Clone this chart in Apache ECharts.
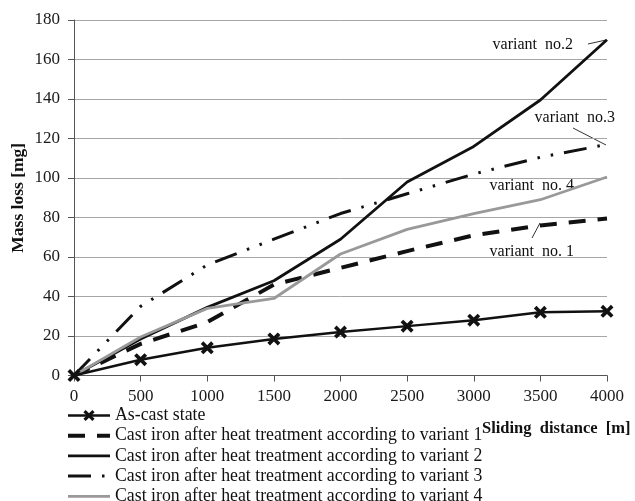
<!DOCTYPE html>
<html>
<head>
<meta charset="utf-8">
<script src="https://cdn.jsdelivr.net/npm/echarts@6/dist/echarts.min.js"></script>
<style>
html,body{margin:0;padding:0;background:#fff;}
#c{width:635px;height:501px;}
</style>
</head>
<body>
<div id="c"></div>
<script>
const distances = [0, 500, 1000, 1500, 2000, 2500, 3000, 3500, 4000];
const seriesNames = [
  'As-cast state',
  'Cast iron after heat treatment according to variant 1',
  'Cast iron after heat treatment according to variant 2',
  'Cast iron after heat treatment according to variant 3',
  'Cast iron after heat treatment according to variant 4'
];
const asCast   = [0, 8, 14, 18.5, 22, 25, 28, 32, 32.5];
const variant1 = [0, 16, 27, 46, 54.5, 63, 71, 76, 79.5];
const variant2 = [0, 18.5, 34.5, 48, 69, 98, 116, 139.5, 170];
const variant3 = [0, 35, 56, 69, 82, 92, 102, 110.5, 117];
const variant4 = [0, 19.5, 34, 39, 61.5, 74, 82, 89, 100.5];
const annotations = ['variant  no.2', 'variant  no.3', 'variant  no. 4', 'variant  no. 1'];

const FONT = '"Liberation Serif", "Times New Roman", serif';
const pair = arr => distances.map((d, i) => [d, arr[i]]);
const xMark = 'path://M0,2 L2,0 L5,3 L8,0 L10,2 L7,5 L10,8 L8,10 L5,7 L2,10 L0,8 L3,5 Z';

const styles = [
  {color: '#111', width: 2.5, type: 'solid'},
  {color: '#111', width: 4, type: [17, 12]},
  {color: '#111', width: 2.8, type: 'solid'},
  {color: '#111', width: 3, type: [23, 11, 2.5, 11, 2.5, 11]},
  {color: '#999', width: 2.8, type: 'solid'}
];
const dataSets = [asCast, variant1, variant2, variant3, variant4];

const series = seriesNames.map((name, i) => ({
  name: name, type: 'line', data: pair(dataSets[i]),
  symbol: i === 0 ? xMark : 'none', symbolSize: 13, showSymbol: i === 0,
  itemStyle: {color: styles[i].color},
  lineStyle: {color: styles[i].color, width: styles[i].width, type: styles[i].type},
  z: i === 0 ? 5 : 2
}));

const legendData = seriesNames.map((name, i) => ({
  name: name,
  itemStyle: i === 0 ? {color: '#111'} : {opacity: 0},
  lineStyle: {color: styles[i].color, width: styles[i].width, type: styles[i].type}
}));

const chart = echarts.init(document.getElementById('c'), null, {renderer: 'canvas'});
chart.setOption({
  animation: false,
  backgroundColor: '#fff',
  grid: {left: 74, right: 28, top: 20, bottom: 125.5, containLabel: false, outerBoundsMode: 'none'},
  xAxis: {
    type: 'value', min: 0, max: 4000, interval: 500,
    axisLine: {show: true, lineStyle: {color: '#555', width: 1}},
    axisTick: {show: true, length: 6, lineStyle: {color: '#555'}},
    splitLine: {show: false},
    axisLabel: {color: '#1a1a1a', fontFamily: FONT, fontSize: 17, margin: 13,
                formatter: v => String(v)}
  },
  yAxis: {
    type: 'value', min: 0, max: 180, interval: 20,
    name: 'Mass loss [mg]', nameLocation: 'middle', nameGap: 47, nameMoveOverlap: false,
    nameTextStyle: {color: '#111', fontFamily: FONT, fontSize: 17.5, fontWeight: 'bold'},
    axisLine: {show: true, lineStyle: {color: '#555', width: 1}},
    axisTick: {show: true, length: 6, lineStyle: {color: '#555'}},
    splitLine: {show: true, lineStyle: {color: '#a6a6a6', width: 1}},
    axisLabel: {color: '#1a1a1a', fontFamily: FONT, fontSize: 17, margin: 14}
  },
  legend: {
    orient: 'vertical', left: 66, top: 406.5, height: 110, padding: 0,
    itemWidth: 42, itemHeight: 14, itemGap: 2.2,
    textStyle: {color: '#111', fontFamily: FONT, fontSize: 17.8, lineHeight: 17.5},
    data: legendData
  },
  series: series,
  graphic: [
    {type: 'text', left: 482, top: 420,
     style: {text: 'Sliding  distance  [m]', font: 'bold 16.5px ' + FONT, fill: '#111'}},
    {type: 'text', x: 573, y: 45, style: {text: annotations[0], font: '16px ' + FONT, fill: '#111', textAlign: 'right', textVerticalAlign: 'middle'}},
    {type: 'text', x: 615, y: 118, style: {text: annotations[1], font: '16px ' + FONT, fill: '#111', textAlign: 'right', textVerticalAlign: 'middle'}},
    {type: 'text', x: 574, y: 186, style: {text: annotations[2], font: '16px ' + FONT, fill: '#111', textAlign: 'right', textVerticalAlign: 'middle'}},
    {type: 'text', x: 574, y: 252, style: {text: annotations[3], font: '16px ' + FONT, fill: '#111', textAlign: 'right', textVerticalAlign: 'middle'}},
    {type: 'line', shape: {x1: 588, y1: 44, x2: 606, y2: 40}, style: {stroke: '#333', lineWidth: 1}},
    {type: 'line', shape: {x1: 573, y1: 128, x2: 606, y2: 145}, style: {stroke: '#333', lineWidth: 1}},
    {type: 'line', shape: {x1: 532, y1: 238, x2: 540, y2: 223}, style: {stroke: '#333', lineWidth: 1}}
  ]
});
</script>
</body>
</html>
